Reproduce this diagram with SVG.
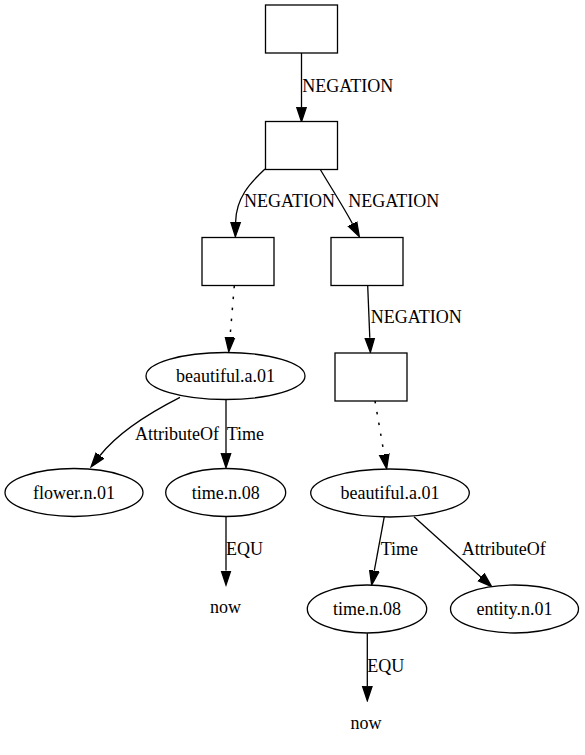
<svg xmlns="http://www.w3.org/2000/svg" width="585" height="755" viewBox="0 0 585 755">
<style>
.n{fill:#fff;stroke:#000;stroke-width:1.3}
.e{fill:none;stroke:#000;stroke-width:1.3;marker-end:url(#ah)}
.d{stroke-dasharray:2.5,8.5;stroke-width:1.5}
</style>
<defs>
<marker id="ah" markerUnits="userSpaceOnUse" markerWidth="16" markerHeight="12" refX="0" refY="5" orient="auto" viewBox="0 -1 16 12">
<path d="M0,0.2 L14.5,5 L0,9.8 z" fill="#000" stroke="#000" stroke-width="1.3"/>
</marker>
</defs>
<rect width="585" height="755" fill="#fff"/>
<g font-family="'Liberation Serif', serif" font-size="18" fill="#000">
<g id="edges">
<path class="e" d="M301.5,53 L301.5,107.2"/>
<text x="302.3" y="91.7">NEGATION</text>
<path class="e" d="M265,169 C250,183 236,198 235.6,222.2"/>
<text x="244" y="206.7">NEGATION</text>
<path class="e" d="M320,169 C330,186 343,206 352.5,223.8"/>
<text x="348.3" y="206.7">NEGATION</text>
<path class="e d" d="M234.3,285.7 L230,337.2"/>
<path class="e" d="M367.7,285.7 L369.8,337.8"/>
<text x="370.7" y="323.3">NEGATION</text>
<path class="e d" d="M375,401 L384.2,454.4"/>
<path class="e" d="M180,397.3 C155,410 120,430 100,455.5"/>
<text x="135" y="440">AttributeOf</text>
<path class="e" d="M226,399.5 L226,453.2"/>
<text x="226.7" y="440">Time</text>
<path class="e" d="M226,516.7 L226,570.5"/>
<text x="226" y="555">EQU</text>
<path class="e" d="M384.3,516.7 L374.3,570.7"/>
<text x="380.7" y="555">Time</text>
<path class="e" d="M414,516.7 L480.9,577"/>
<text x="461.7" y="555">AttributeOf</text>
<path class="e" d="M367.3,633.3 L367.3,686.2"/>
<text x="367.3" y="671.7">EQU</text>
</g>
<g id="n0"><rect class="n" x="265.5" y="5" width="72" height="48"/></g>
<g id="n1"><rect class="n" x="265.5" y="121.5" width="72" height="48"/></g>
<g id="n2"><rect class="n" x="202" y="237.5" width="72" height="48"/></g>
<g id="n3"><rect class="n" x="331" y="237.5" width="72" height="48"/></g>
<g id="n4"><rect class="n" x="335" y="353" width="72" height="48"/></g>
<g id="n5" text-anchor="middle"><ellipse class="n" cx="225.5" cy="376" rx="79.5" ry="23.5"/><text x="225.5" y="382">beautiful.a.01</text></g>
<g id="n6" text-anchor="middle"><ellipse class="n" cx="74" cy="492.5" rx="69" ry="24"/><text x="74" y="498.5">flower.n.01</text></g>
<g id="n7" text-anchor="middle"><ellipse class="n" cx="225.7" cy="492.5" rx="60" ry="24"/><text x="225.7" y="498.5">time.n.08</text></g>
<g id="n8" text-anchor="middle"><text x="225.5" y="613">now</text></g>
<g id="n9" text-anchor="middle"><ellipse class="n" cx="390" cy="493" rx="79.3" ry="24"/><text x="390" y="499">beautiful.a.01</text></g>
<g id="n10" text-anchor="middle"><ellipse class="n" cx="367" cy="609" rx="59.7" ry="24"/><text x="367" y="615">time.n.08</text></g>
<g id="n11" text-anchor="middle"><ellipse class="n" cx="514.5" cy="609" rx="64" ry="24"/><text x="514.5" y="615">entity.n.01</text></g>
<g id="n12" text-anchor="middle"><text x="366" y="729">now</text></g>
</g>
</svg>
